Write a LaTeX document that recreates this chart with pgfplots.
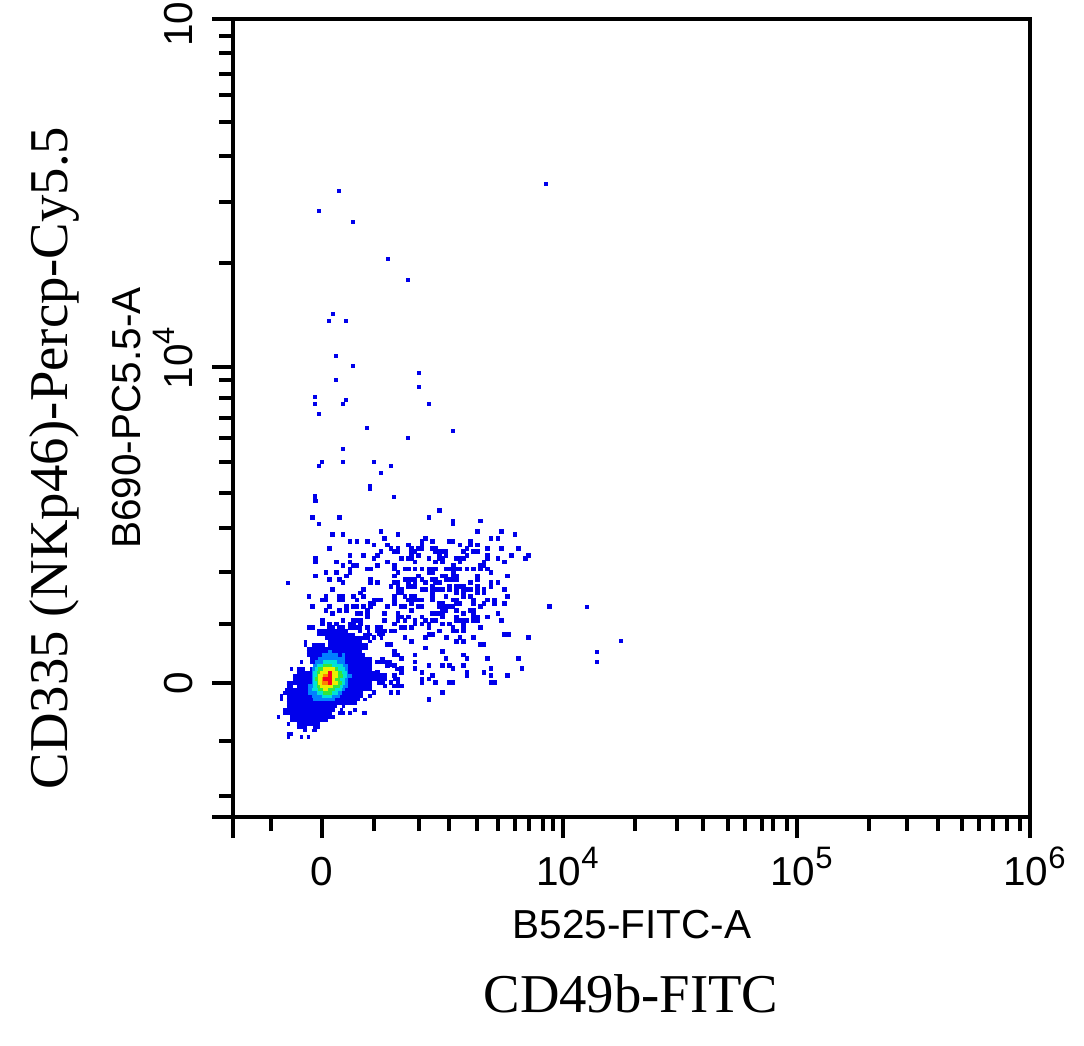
\documentclass[border=0pt]{standalone}
\usepackage{pgfplots}
\pgfplotsset{compat=1.18}
\usepackage{fontspec}
\setmainfont{Liberation Sans}
\newfontfamily\timesf{Liberation Serif}
\definecolor{cblue}{RGB}{0,0,235}
\definecolor{cazure}{RGB}{0,128,255}
\definecolor{ccyan}{RGB}{0,225,215}
\definecolor{cgreen}{RGB}{50,230,60}
\definecolor{cyell}{RGB}{235,240,0}
\definecolor{corange}{RGB}{255,130,0}
\definecolor{cred}{RGB}{250,0,30}
\newcommand{\ex}[1]{\raisebox{17pt}{\fontsize{31}{31}\selectfont #1}}
\pgfplotsset{cells/.style={cblue,only marks,mark=square*,mark size=1.9pt,mark options={solid,draw=cblue,fill=cblue,line width=0pt}}}
\begin{document}
\begin{tikzpicture}[x=1pt,y=1pt]
\path[use as bounding box] (0,0) rectangle (1084,1046);
\begin{axis}[
  at={(233pt,229pt)}, anchor=south west,
  scale only axis, width=797pt, height=798pt,
  xmin=233, xmax=1030, ymin=19, ymax=817, y dir=reverse,
  clip=false,
  axis line style={line width=3.3pt,black},
  major tick style={line width=3.2pt,black},
  minor tick style={line width=3.2pt,black},
  major tick length=21pt, minor tick length=14pt,
  tick align=outside, xtick pos=bottom, ytick pos=left,
  xtick={233,322,563,797,1030},
  xticklabels={{},{0},{\hspace{9pt}10\ex{4}},{\hspace{9pt}10\ex{5}},{\hspace{9pt}10\ex{6}}},
  minor xtick={271,374,419,449,477,498,515,529,543,553,635,677,703,728,745,762,773,787,869,907,938,962,979,993,1007,1020},
  ytick={19,367,683,817},
  yticklabels={{10\rule{10pt}{0pt}},{\hspace{18pt}10\ex{4}},{0},{}},
  minor ytick={36,53,74,95,122,156,202,263,380,398,418,438,462,493,528,572,624,741,796},
  ticklabel style={font=\fontsize{40.5}{40.5}\selectfont},
  xticklabel style={anchor=base,yshift=-47pt},
  yticklabel style={rotate=90,anchor=base,yshift=20pt},
  xlabel={B525-FITC-A},
  ylabel={B690-PC5.5-A},
  label style={font=\fontsize{40.5}{40.5}\selectfont},
  xlabel style={at={(axis cs:632,938)},anchor=base},
  ylabel style={at={(axis cs:140,418)},anchor=base,rotate=0},
]
% sparse events (pixel positions)
\addplot[cells] table[row sep=\\] {
x y\\
546 184\\339 191\\319 211\\353 222\\388 259\\408 280\\333 314\\329 321\\346 321\\336 356\\353 366\\419 373\\419 387\\336 380\\
315 397\\315 404\\346 400\\343 404\\429 404\\319 414\\367 428\\453 431\\408 438\\343 449\\322 462\\319 466\\343 462\\374 462\\391 466\\
381 473\\370 486\\370 489\\315 496\\315 499\\394 497\\549 607\\587 607\\621 641\\597 652\\597 662\\288 583\\
};
% main scatter, positions read from an enlarged crop (3x, origin 300,500)
\addplot[cells] table[x expr=300+\thisrow{x}/3,y expr=500+\thisrow{y}/3,row sep=\\] {
x y\\
46 3\\418 32\\37 52\\118 52\\387 52\\459 63\\541 63\\57 72\\459 72\\243 95\\532 95\\604 95\\98 104\\129 104\\294 104\\645 104\\
253 115\\376 115\\573 115\\594 115\\150 125\\171 125\\202 125\\366 125\\397 125\\449 125\\459 125\\511 125\\
222 135\\263 135\\325 135\\366 135\\480 135\\511 135\\532 135\\
88 145\\273 145\\294 145\\335 145\\356 145\\366 145\\397 145\\407 145\\501 145\\563 145\\604 145\\655 145\\
243 155\\284 155\\294 155\\335 155\\345 155\\407 155\\418 155\\428 155\\438 155\\490 155\\521 155\\532 155\\
150 166\\191 166\\232 166\\335 166\\356 166\\418 166\\438 166\\501 166\\562 166\\634 166\\686 166\\
46 176\\222 176\\304 176\\325 176\\335 176\\387 176\\418 176\\428 176\\470 176\\480 176\\490 176\\562 176\\594 176\\676 176\\
46 186\\109 186\\150 186\\263 186\\345 186\\407 186\\428 186\\480 186\\552 186\\614 186\\
129 197\\160 197\\171 197\\232 197\\284 197\\460 197\\541 197\\552 197\\
150 207\\202 207\\212 207\\284 207\\315 207\\325 207\\345 207\\366 207\\387 207\\397 207\\407 207\\438 207\\449 207\\459 207\\470 207\\480 207\\501 207\\521 207\\541 207\\562 207\\
78 217\\109 217\\150 217\\294 217\\387 217\\397 217\\460 217\\573 217\\
46 228\\139 228\\284 228\\356 228\\428 228\\438 228\\459 228\\470 228\\532 228\\623 228\\
88 238\\119 238\\212 238\\315 238\\325 238\\335 238\\345 238\\366 238\\397 238\\407 238\\438 238\\449 238\\459 238\\470 238\\532 238\\
129 248\\212 248\\232 248\\284 248\\294 248\\325 248\\345 248\\376 248\\407 248\\418 248\\511 248\\573 248\\594 248\\
273 259\\294 259\\325 259\\335 259\\345 259\\397 259\\449 259\\470 259\\480 259\\490 259\\532 259\\573 259\\
98 269\\191 269\\294 269\\304 269\\366 269\\376 269\\397 269\\407 269\\418 269\\428 269\\449 269\\470 269\\490 269\\501 269\\511 269\\532 269\\552 269\\614 269\\
181 279\\294 279\\304 279\\397 279\\470 279\\490 279\\532 279\\552 279\\
27 290\\78 290\\119 290\\129 290\\160 290\\191 290\\284 290\\315 290\\335 290\\345 290\\397 290\\438 290\\491 290\\511 290\\623 290\\
67 300\\78 300\\119 300\\129 300\\171 300\\222 300\\232 300\\243 300\\284 300\\325 300\\335 300\\345 300\\356 300\\366 300\\397 300\\459 300\\470 300\\521 300\\562 300\\583 300\\
212 310\\222 310\\284 310\\335 310\\418 310\\428 310\\470 310\\480 310\\521 310\\552 310\\583 310\\614 310\\
37 320\\88 320\\139 320\\160 320\\171 320\\191 320\\212 320\\263 320\\304 320\\315 320\\356 320\\366 320\\418 320\\428 320\\438 320\\449 320\\459 320\\541 320\\748 320\\
78 331\\119 331\\139 331\\202 331\\335 331\\428 331\\438 331\\470 331\\511 331\\521 331\\
98 341\\171 341\\181 341\\202 341\\253 341\\294 341\\397 341\\407 341\\418 341\\428 341\\490 341\\521 341\\594 341\\
202 351\\294 351\\304 351\\325 351\\366 351\\428 351\\470 351\\521 351\\532 351\\562 351\\
67 362\\129 362\\160 362\\171 362\\181 362\\253 362\\294 362\\315 362\\345 362\\376 362\\397 362\\407 362\\470 362\\480 362\\490 362\\501 362\\521 362\\532 362\\604 362\\
67 372\\88 372\\109 372\\150 372\\160 372\\181 372\\284 372\\345 372\\366 372\\387 372\\428 372\\449 372\\490 372\\
27 382\\37 382\\88 382\\98 382\\119 382\\129 382\\150 382\\160 382\\170 382\\180 382\\202 382\\232 382\\243 382\\304 382\\315 382\\335 382\\387 382\\459 382\\490 382\\541 382\\
57 393\\232 393\\243 393\\253 393\\273 393\\284 393\\418 393\\459 393\\470 393\\490 393\\
243 403\\387 403\\397 403\\614 403\\625 403\\
202 413\\222 413\\315 413\\377 413\\439 413\\480 413\\521 413\\686 413\\
335 424\\470 424\\490 424\\263 434\\273 434\\541 434\\552 434\\377 444\\284 455\\428 455\\
284 465\\294 465\\345 465\\490 465\\304 475\\438 475\\501 475\\562 475\\655 475\\232 486\\243 486\\345 486\\
263 496\\284 496\\387 496\\428 496\\449 496\\490 496\\304 506\\345 506\\459 506\\573 506\\666 506\\
232 517\\304 517\\366 517\\501 517\\552 517\\232 527\\243 527\\253 527\\284 527\\397 527\\501 527\\573 527\\623 527\\
243 537\\253 537\\294 537\\366 537\\387 537\\243 547\\273 547\\294 547\\366 547\\407 547\\449 547\\459 547\\573 547\\583 547\\
284 558\\294 558\\304 558\\222 578\\273 578\\294 578\\428 578\\387 599\\
};
% density core: rows of cells, start and end of each run
\addplot[cblue,line width=3.6pt,unbounded coords=jump,no marks] table[row sep=\\] {
x y\\
317.3 631\\348.3 631\\nan nan\\358.3 631\\361.7 631\\nan nan\\366.7 631\\370 631\\nan nan\\376.7 631\\385 631\\nan nan\\390 631\\396.7 631\\nan nan\\
317.3 634.4\\355 634.4\\nan nan\\363.3 634.4\\371.7 634.4\\nan nan\\376.7 634.4\\385 634.4\\nan nan\\
325 638\\368.3 638\\nan nan\\380 638\\383.3 638\\nan nan\\403.3 638\\406.7 638\\nan nan\\
303.5 641.3\\307 641.3\\nan nan\\328.3 641.3\\361.7 641.3\\nan nan\\368.3 641.3\\371.7 641.3\\nan nan\\410 641.3\\413.3 641.3\\nan nan\\
303.5 644.7\\307 644.7\\nan nan\\311.7 644.7\\325 644.7\\nan nan\\328.3 644.7\\368.3 644.7\\nan nan\\386.7 644.7\\393.3 644.7\\nan nan\\
306.7 648.3\\368.3 648.3\\nan nan\\
306.7 651.7\\361.7 651.7\\nan nan\\393.3 651.7\\396.7 651.7\\nan nan\\
306.7 655\\365 655\\nan nan\\393.3 655\\400 655\\nan nan\\
310 658.3\\371.7 658.3\\nan nan\\380 658.3\\385 658.3\\nan nan\\
300 662\\303.3 662\\nan nan\\310 662\\371.7 662\\nan nan\\376.7 662\\391.7 662\\nan nan\\
313.3 665.3\\371.7 665.3\\nan nan\\385 665.3\\391.7 665.3\\nan nan\\
290 668.7\\293.3 668.7\\nan nan\\296.7 668.7\\305 668.7\\nan nan\\310 668.7\\371.7 668.7\\nan nan\\395 668.7\\403.3 668.7\\nan nan\\
296.7 672.3\\375 672.3\\nan nan\\400 672.3\\403.3 672.3\\nan nan\\
293.3 675.7\\378.3 675.7\\nan nan\\
293.3 679\\385 679\\nan nan\\393.3 679\\396.7 679\\nan nan\\
286.7 682.7\\371.7 682.7\\nan nan\\376.7 682.7\\385 682.7\\nan nan\\
286.7 686\\293.3 686\\nan nan\\296.7 686\\371.7 686\\nan nan\\383.3 686\\386.7 686\\nan nan\\393.3 686\\403.3 686\\nan nan\\
285 689.3\\371.7 689.3\\nan nan\\
283.3 692.7\\363.3 692.7\\nan nan\\371.7 692.7\\375 692.7\\nan nan\\390 692.7\\393.3 692.7\\nan nan\\396.7 692.7\\400 692.7\\nan nan\\
280 696\\283.3 696\\nan nan\\286.7 696\\363.3 696\\nan nan\\368.3 696\\371.7 696\\nan nan\\
280 699.3\\283.3 699.3\\nan nan\\286.7 699.3\\360 699.3\\nan nan\\363.3 699.3\\366.7 699.3\\nan nan\\
286.7 703\\356.7 703\\nan nan\\
286.7 706.3\\336.7 706.3\\nan nan\\341.7 706.3\\345 706.3\\nan nan\\
283.3 709.7\\335 709.7\\nan nan\\340 709.7\\343.3 709.7\\nan nan\\353.3 709.7\\356.7 709.7\\nan nan\\
283.3 713\\331.7 713\\nan nan\\338.3 713\\345 713\\nan nan\\348.3 713\\351.7 713\\nan nan\\361.7 713\\366.7 713\\nan nan\\
276.7 717\\280 717\\nan nan\\290 717\\335 717\\nan nan\\
290 720.3\\328.3 720.3\\nan nan\\
286.7 723.7\\290 723.7\\nan nan\\296.7 723.7\\320 723.7\\nan nan\\
296.7 727\\306.7 727\\nan nan\\313.3 727\\320 727\\nan nan\\
303.3 730.3\\306.7 730.3\\nan nan\\311.7 730.3\\316.7 730.3\\nan nan\\
286.7 733.7\\293.3 733.7\\nan nan\\
286.7 737\\290 737\\nan nan\\300 737\\303.3 737\\nan nan\\306.7 737\\310 737\\nan nan\\
};
\addplot[cazure,line width=3.6pt,unbounded coords=jump,no marks] table[row sep=\\] {
x y\\
328.3 651.7\\331.7 651.7\\nan nan\\321.7 655\\338 655\\nan nan\\341.7 655\\345 655\\nan nan\\318.3 658.3\\345 658.3\\nan nan\\315 662\\345 662\\nan nan\\
313.3 665.3\\348.3 665.3\\nan nan\\311.7 668.7\\348.3 668.7\\nan nan\\311.7 672.3\\348.3 672.3\\nan nan\\311.7 675.7\\351.7 675.7\\nan nan\\
311.7 679\\348.3 679\\nan nan\\311.7 682.7\\348.3 682.7\\nan nan\\308.3 686\\348.3 686\\nan nan\\308.3 689.3\\345 689.3\\nan nan\\
308.3 692.7\\341.7 692.7\\nan nan\\311.7 696\\340 696\\nan nan\\313.3 699.3\\335 699.3\\nan nan\\
};
\addplot[ccyan,line width=3.6pt,unbounded coords=jump,no marks] table[row sep=\\] {
x y\\
323.3 662\\336.7 662\\nan nan\\316.7 665.3\\343.3 665.3\\nan nan\\315 668.7\\345 668.7\\nan nan\\313.3 672.3\\346.7 672.3\\nan nan\\
313.3 675.7\\346.7 675.7\\nan nan\\313.3 679\\345 679\\nan nan\\313.3 682.7\\345 682.7\\nan nan\\313.3 686\\343.3 686\\nan nan\\
311.7 689.3\\341.7 689.3\\nan nan\\316.7 692.7\\338.3 692.7\\nan nan\\321.7 696\\331.7 696\\nan nan\\
};
\addplot[cgreen,line width=3.6pt,unbounded coords=jump,no marks] table[row sep=\\] {
x y\\
323.3 665.3\\331.7 665.3\\nan nan\\318.3 668.7\\338.3 668.7\\nan nan\\316.7 672.3\\341.7 672.3\\nan nan\\316.7 675.7\\343.3 675.7\\nan nan\\
315 679\\340 679\\nan nan\\316.7 682.7\\341.7 682.7\\nan nan\\316.7 686\\340 686\\nan nan\\318.3 689.3\\335 689.3\\nan nan\\323.3 692.7\\331.7 692.7\\nan nan\\
};
\addplot[cyell,line width=3.6pt,unbounded coords=jump,no marks] table[row sep=\\] {
x y\\
323.3 668.7\\335 668.7\\nan nan\\320 672.3\\338.3 672.3\\nan nan\\318.3 675.7\\338.3 675.7\\nan nan\\318.3 679\\335 679\\nan nan\\
318.3 682.7\\338.3 682.7\\nan nan\\320 686\\333.3 686\\nan nan\\323.3 689.3\\328.3 689.3\\nan nan\\
};
\addplot[corange,line width=3.6pt,unbounded coords=jump,no marks] table[row sep=\\] {
x y\\
323.3 675.7\\331.7 675.7\\nan nan\\321.7 679\\328.3 679\\nan nan\\321.7 682.7\\328.3 682.7\\nan nan\\
};
\addplot[cred,line width=3.6pt,unbounded coords=jump,no marks] table[row sep=\\] {
x y\\
328.3 672.3\\331.7 672.3\\nan nan\\328.3 675.7\\331.7 675.7\\nan nan\\323.3 679\\331.7 679\\nan nan\\328.3 682.7\\331.7 682.7\\nan nan\\
};
\node[anchor=base,inner sep=0pt,font=\timesf\fontsize{54.7}{54.7}\selectfont] at (axis cs:631,1012) {CD49b-FITC};
\node[anchor=base,rotate=90,inner sep=0pt,font=\timesf\fontsize{54.7}{54.7}\selectfont] at (axis cs:68,458) {CD335 (NKp46)-Percp-Cy5.5};
\end{axis}
\end{tikzpicture}
\end{document}
